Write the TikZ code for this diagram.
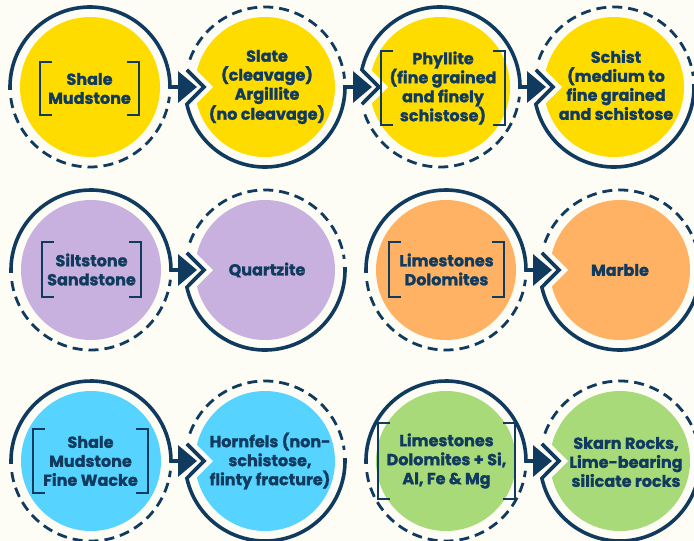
\documentclass[tikz,border=0pt]{standalone}
\usepackage{fontspec}
\setmainfont{Poppins}[BoldFeatures={FakeBold=1.3}]
\usetikzlibrary{arrows.meta}
\definecolor{paper}{RGB}{253,253,246}
\definecolor{navy}{RGB}{16,58,94}
\definecolor{sun}{RGB}{255,220,0}
\definecolor{lilac}{RGB}{200,177,222}
\definecolor{peach}{RGB}{255,178,100}
\definecolor{sky}{RGB}{87,211,255}
\definecolor{leaf}{RGB}{168,218,122}
\tikzset{
 disc/.style={circle, minimum size=140pt, inner sep=0pt},
 txt/.style={font=\fontsize{16}{19}\selectfont\bfseries, text=navy, align=center, inner sep=0pt},
 ring/.style={draw=navy, line width=3.6pt, line join=miter},
 dashring/.style={draw=navy, line width=2.8pt, dash pattern=on 10pt off 6pt},
 link/.style={ring, -{Triangle[length=19pt,width=31pt]}},
 notch/.style={fill=paper},
 brk/.style={draw=navy, line width=2.2pt}
}

\begin{document}
\begin{tikzpicture}[x=1pt, y=1pt]

\fill[paper] (0,0) rectangle (694,-541);
\useasboundingbox (0,0) rectangle (694,-541);

% discs
\node[disc, fill=sun] (shale) at (90,-87) {};
\node[disc, fill=sun] (slate) at (265,-87) {};
\node[disc, fill=sun] (phyllite) at (440,-87) {};
\node[disc, fill=sun] (schist) at (614,-87) {};
\node[disc, fill=lilac] (silt) at (91,-270) {};
\node[disc, fill=lilac] (quartz) at (265,-270) {};
\node[disc, fill=peach] (lime) at (446,-270) {};
\node[disc, fill=peach] (marble) at (620,-270) {};
\node[disc, fill=sky] (wacke) at (91,-461) {};
\node[disc, fill=sky] (hornfels) at (265,-461) {};
\node[disc, fill=leaf] (dolo) at (446,-461) {};
\node[disc, fill=leaf] (skarn) at (620,-461) {};

% notches cut into the receiving discs
\fill[notch] ([xshift=-52pt]slate.center) -- ++(-38,38) -- ++(-10,0) -- ++(0,-76) -- ++(10,0) -- cycle;
\fill[notch] ([xshift=-52pt]phyllite.center) -- ++(-38,38) -- ++(-10,0) -- ++(0,-76) -- ++(10,0) -- cycle;
\fill[notch] ([xshift=-52pt]schist.center) -- ++(-38,38) -- ++(-10,0) -- ++(0,-76) -- ++(10,0) -- cycle;
\fill[notch] ([xshift=-52pt]quartz.center) -- ++(-38,38) -- ++(-10,0) -- ++(0,-76) -- ++(10,0) -- cycle;
\fill[notch] ([xshift=-52pt]marble.center) -- ++(-38,38) -- ++(-10,0) -- ++(0,-76) -- ++(10,0) -- cycle;
\fill[notch] ([xshift=-52pt]hornfels.center) -- ++(-38,38) -- ++(-10,0) -- ++(0,-76) -- ++(10,0) -- cycle;
\fill[notch] ([xshift=-52pt]skarn.center) -- ++(-38,38) -- ++(-10,0) -- ++(0,-76) -- ++(10,0) -- cycle;

% top row rings and links
\draw[dashring] ([shift={(188:80)}]shale.center) arc[start angle=188, end angle=353, radius=80];
\draw[link] ([shift={(182:80)}]shale.center) arc[start angle=182, end angle=0, radius=80] -- ([xshift=-68pt]slate.center);
\draw[dashring] ([shift={(160:80)}]slate.center) arc[start angle=160, end angle=6, radius=80];
\draw[link] ([shift={(167.6:80)}]slate.center) -- ([xshift=-61pt]slate.center) -- ([shift={(192.4:80)}]slate.center) arc[start angle=192.4, end angle=360, radius=80] -- ([xshift=-68pt]phyllite.center);
\draw[dashring] ([shift={(200:80)}]phyllite.center) arc[start angle=200, end angle=353, radius=80];
\draw[link] ([shift={(192.4:80)}]phyllite.center) -- ([xshift=-61pt]phyllite.center) -- ([shift={(167.6:80)}]phyllite.center) arc[start angle=167.6, end angle=0, radius=80] -- ([xshift=-68pt]schist.center);
\draw[dashring] ([shift={(160:80)}]schist.center) arc[start angle=160, end angle=8, radius=80];
\draw[ring] ([shift={(167.6:80)}]schist.center) -- ([xshift=-61pt]schist.center) -- ([shift={(192.4:80)}]schist.center) arc[start angle=192.4, end angle=362, radius=80];

% middle row
\draw[dashring] ([shift={(188:80)}]silt.center) arc[start angle=188, end angle=353, radius=80];
\draw[link] ([shift={(182:80)}]silt.center) arc[start angle=182, end angle=0, radius=80] -- ([xshift=-68pt]quartz.center);
\draw[dashring] ([shift={(160:80)}]quartz.center) arc[start angle=160, end angle=8, radius=80];
\draw[ring] ([shift={(167.6:80)}]quartz.center) -- ([xshift=-61pt]quartz.center) -- ([shift={(192.4:80)}]quartz.center) arc[start angle=192.4, end angle=362, radius=80];
\draw[dashring] ([shift={(188:80)}]lime.center) arc[start angle=188, end angle=353, radius=80];
\draw[link] ([shift={(182:80)}]lime.center) arc[start angle=182, end angle=0, radius=80] -- ([xshift=-68pt]marble.center);
\draw[dashring] ([shift={(160:80)}]marble.center) arc[start angle=160, end angle=8, radius=80];
\draw[ring] ([shift={(167.6:80)}]marble.center) -- ([xshift=-61pt]marble.center) -- ([shift={(192.4:80)}]marble.center) arc[start angle=192.4, end angle=362, radius=80];

% bottom row
\draw[dashring] ([shift={(188:80)}]wacke.center) arc[start angle=188, end angle=353, radius=80];
\draw[link] ([shift={(182:80)}]wacke.center) arc[start angle=182, end angle=0, radius=80] -- ([xshift=-68pt]hornfels.center);
\draw[dashring] ([shift={(160:80)}]hornfels.center) arc[start angle=160, end angle=8, radius=80];
\draw[ring] ([shift={(167.6:80)}]hornfels.center) -- ([xshift=-61pt]hornfels.center) -- ([shift={(192.4:80)}]hornfels.center) arc[start angle=192.4, end angle=362, radius=80];
\draw[dashring] ([shift={(188:80)}]dolo.center) arc[start angle=188, end angle=353, radius=80];
\draw[link] ([shift={(182:80)}]dolo.center) arc[start angle=182, end angle=0, radius=80] -- ([xshift=-68pt]skarn.center);
\draw[dashring] ([shift={(160:80)}]skarn.center) arc[start angle=160, end angle=8, radius=80];
\draw[ring] ([shift={(167.6:80)}]skarn.center) -- ([xshift=-61pt]skarn.center) -- ([shift={(192.4:80)}]skarn.center) arc[start angle=192.4, end angle=362, radius=80];

% labels
\node[txt, minimum width=99pt, minimum height=53pt] (shaletext) at (89.5,-88.5) {Shale\\Mudstone};
\node[txt] (slatetext) at (267,-87) {Slate\\(cleavage)\\Argillite\\(no cleavage)};
\node[txt, minimum width=123pt, minimum height=69pt] (phyllitetext) at (443,-88) {Phyllite\\(fine grained\\and finely\\schistose)};
\node[txt] (schisttext) at (616,-85) {Schist\\(medium to\\fine grained\\and schistose};
\node[txt, minimum width=99pt, minimum height=55pt] (silttext) at (91.5,-269.5) {Siltstone\\Sandstone};
\node[txt] (quartztext) at (267,-270) {Quartzite};
\node[txt, minimum width=115pt, minimum height=55pt] (limetext) at (446.5,-269.5) {Limestones\\Dolomites};
\node[txt] (marbletext) at (620,-270) {Marble};
\node[txt, minimum width=115pt, minimum height=64pt] (wacketext) at (90.5,-461) {Shale\\Mudstone\\Fine Wacke};
\node[txt] (hornfelstext) at (270,-461) {Hornfels (non-\\schistose,\\flinty fracture)};
\node[txt, minimum width=137pt, minimum height=76pt] (dolotext) at (446.5,-461) {Limestones\\Dolomites + Si,\\Al, Fe \& Mg};
\node[txt] (skarntext) at (626,-462) {Skarn Rocks,\\Lime-bearing\\silicate rocks};

% brackets
\draw[brk] ([xshift=12pt]shaletext.north west) -- (shaletext.north west) -- (shaletext.south west) -- ([xshift=12pt]shaletext.south west)
  ([xshift=-12pt]shaletext.north east) -- (shaletext.north east) -- (shaletext.south east) -- ([xshift=-12pt]shaletext.south east);
\draw[brk] ([xshift=12pt]phyllitetext.north west) -- (phyllitetext.north west) -- (phyllitetext.south west) -- ([xshift=12pt]phyllitetext.south west)
  ([xshift=-12pt]phyllitetext.north east) -- (phyllitetext.north east) -- (phyllitetext.south east) -- ([xshift=-12pt]phyllitetext.south east);
\draw[brk] ([xshift=12pt]silttext.north west) -- (silttext.north west) -- (silttext.south west) -- ([xshift=12pt]silttext.south west)
  ([xshift=-12pt]silttext.north east) -- (silttext.north east) -- (silttext.south east) -- ([xshift=-12pt]silttext.south east);
\draw[brk] ([xshift=12pt]limetext.north west) -- (limetext.north west) -- (limetext.south west) -- ([xshift=12pt]limetext.south west)
  ([xshift=-12pt]limetext.north east) -- (limetext.north east) -- (limetext.south east) -- ([xshift=-12pt]limetext.south east);
\draw[brk] ([xshift=12pt]wacketext.north west) -- (wacketext.north west) -- (wacketext.south west) -- ([xshift=12pt]wacketext.south west)
  ([xshift=-12pt]wacketext.north east) -- (wacketext.north east) -- (wacketext.south east) -- ([xshift=-12pt]wacketext.south east);
\draw[brk] ([xshift=12pt]dolotext.north west) -- (dolotext.north west) -- (dolotext.south west) -- ([xshift=12pt]dolotext.south west)
  ([xshift=-12pt]dolotext.north east) -- (dolotext.north east) -- (dolotext.south east) -- ([xshift=-12pt]dolotext.south east);

\end{tikzpicture}
\end{document}
